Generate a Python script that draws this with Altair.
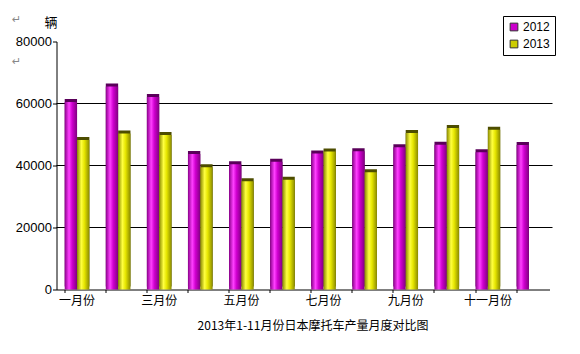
import altair as alt
import pandas as pd

months = ['一月份', '二月份', '三月份', '四月份', '五月份', '六月份',
          '七月份', '八月份', '九月份', '十月份', '十一月份', '十二月份']
v2012 = [60500, 65500, 62100, 43700, 40400, 41200, 43900, 44600, 45900, 46700, 44300, 46600]
v2013 = [48200, 50300, 49800, 39400, 34900, 35400, 44500, 37800, 50500, 52100, 51500, None]
series = ['2012', '2013']
grid_values = [20000, 40000, 60000]
y_ticks = [0, 20000, 40000, 60000, 80000]
shown_labels = ['一月份', '三月份', '五月份', '七月份', '九月份', '十一月份']

rows = []
for m, a, b in zip(months, v2012, v2013):
    rows.append({'month': m, 'series': '2012', 'value': a})
    if b is not None:
        rows.append({'month': m, 'series': '2013', 'value': b})
df = pd.DataFrame(rows)

W, H = 493, 248
FONT = 'Liberation Sans, Noto Sans CJK SC'

x_enc = alt.X('month:N', sort=months,
              scale=alt.Scale(domain=months, paddingInner=0.4, paddingOuter=0.2),
              axis=alt.Axis(title=None, labelAngle=0, labelFont=FONT, labelFontSize=12,
                            labelColor='black', domainColor='black', tickColor='black',
                            tickSize=3, bandPosition=0, labelPadding=3, grid=False,
                            labelExpr="indexof(" + str(shown_labels) + ", datum.label) >= 0 ? datum.label : ''"))
xo_enc = alt.XOffset('series:N', scale=alt.Scale(domain=series, paddingInner=0, paddingOuter=0))
y_axis = alt.Axis(values=y_ticks, format='d', grid=False, labelFont=FONT,
                  labelFontSize=13, labelColor='black', domainColor='black',
                  tickColor='black', tickSize=4, labelPadding=1,
                  title='辆', titleAngle=0, titleFont='Noto Sans CJK SC',
                  titleFontSize=13, titleFontWeight='normal', titleColor='black',
                  titleAlign='center', titleBaseline='middle',
                  titleX=-6, titleY=-19.5)
y_scale = alt.Scale(domain=[0, 80000], nice=False)
y_enc = alt.Y('value:Q', scale=y_scale, axis=y_axis)


def grad(c0, c1, c2, c3):
    return alt.Gradient(gradient='linear', x1=0, x2=1, y1=0, y2=0,
                        stops=[alt.GradientStop(color=c0, offset=0),
                               alt.GradientStop(color=c1, offset=0.35),
                               alt.GradientStop(color=c2, offset=0.6),
                               alt.GradientStop(color=c3, offset=1)])


base = alt.Chart(df)

grid = alt.Chart(pd.DataFrame({'value': grid_values})).mark_rule(color='black', strokeWidth=1).encode(
    y=y_enc, x=alt.value(0), x2=alt.value(W + 3))

shadow12 = base.transform_filter(alt.datum.series == '2012').mark_bar(
    color='#5a005a', xOffset=4, yOffset=-3).encode(x=x_enc, xOffset=xo_enc, y=y_enc)
shadow13 = base.transform_filter(alt.datum.series == '2013').mark_bar(
    color='#4d4d00', xOffset=4, yOffset=-3).encode(x=x_enc, xOffset=xo_enc, y=y_enc)
front12 = base.transform_filter(alt.datum.series == '2012').mark_bar(
    color=grad('#8a008a', '#ff40ff', '#d000d0', '#800080')).encode(x=x_enc, xOffset=xo_enc, y=y_enc)
front13 = base.transform_filter(alt.datum.series == '2013').mark_bar(
    color=grad('#8a8a00', '#ffff40', '#e6e600', '#8a8a00')).encode(x=x_enc, xOffset=xo_enc, y=y_enc)

legend_layer = base.mark_bar(opacity=0).encode(
    x=x_enc, xOffset=xo_enc, y=y_enc,
    color=alt.Color('series:N', scale=alt.Scale(domain=series, range=['#cc00cc', '#cccc00']),
                    legend=alt.Legend(title=None, orient='none', legendX=446.5, legendY=-25.5,
                                      symbolType='square', symbolSize=60, symbolOpacity=1,
                                      symbolStrokeColor='#333333', symbolStrokeWidth=1,
                                      labelFont=FONT, labelFontSize=12, labelColor='black',
                                      strokeColor='black', fillColor='white', padding=5,
                                      rowPadding=5, labelOffset=3)))

marks_df = pd.DataFrame({'t': ['↵', '↵'], 'py': [-21.5, 20.5]})
para = alt.Chart(marks_df).mark_text(color='#888888', fontSize=11, font='DejaVu Sans').encode(
    text='t:N', x=alt.value(-40), y=alt.Y('py:Q', scale=None, axis=None))

chart = alt.layer(grid, shadow12, shadow13, front12, front13, legend_layer, para).properties(
    width=W, height=H,
    background='white',
    padding={'left': 56.5, 'top': 41.5, 'right': 30.5, 'bottom': 64.5},
    autosize=alt.AutoSizeParams(type='none'),
    title=alt.TitleParams('2013年1-11月份日本摩托车产量月度对比图', orient='bottom',
                          font='Noto Sans CJK SC', fontSize=12, fontWeight='normal',
                          color='black', offset=14, anchor='middle', dx=10)
).configure_view(stroke=None).configure_axis(grid=False)

chart.save("out.html", embed_options={"renderer": "svg", "actions": False})
